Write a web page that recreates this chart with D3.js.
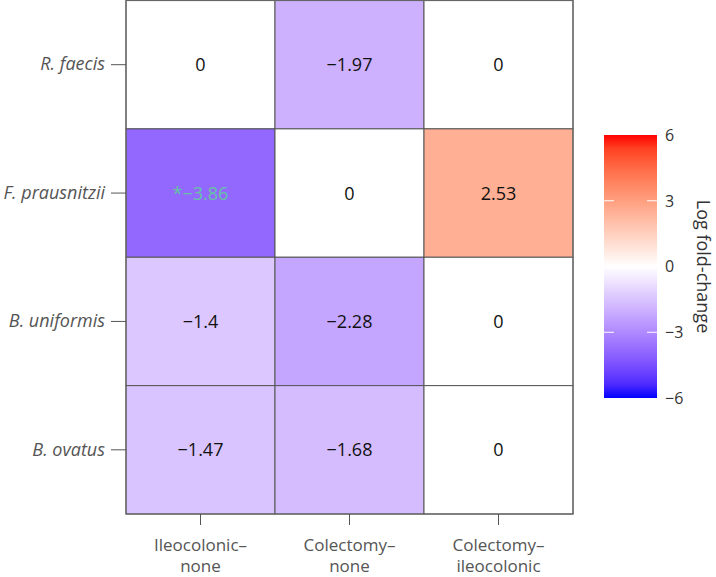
<!DOCTYPE html>
<html><head><meta charset="utf-8">
<script src="https://cdn.jsdelivr.net/npm/d3@7"></script>
<style>body{margin:0;background:#fff;} svg{display:block;}</style>
</head><body>
<svg id="c" width="716" height="577"></svg>
<script>
const species = ["R. faecis","F. prausnitzii","B. uniformis","B. ovatus"];
const comparisons = ["Ileocolonic–\nnone","Colectomy–\nnone","Colectomy–\nileocolonic"];
const values = [
  [0, -1.97, 0],
  [-3.86, 0, 2.53],
  [-1.4, -2.28, 0],
  [-1.47, -1.68, 0]
];
const significant = [
  [false,false,false],
  [true,false,false],
  [false,false,false],
  [false,false,false]
];
const legendTicks = [6,3,0,-3,-6];

const svg = d3.select("#c");
const font = "'Open Sans', sans-serif";
const x = d3.scaleBand().domain(comparisons).range([126,573]);
const y = d3.scaleBand().domain(species).range([0.5,514]);
const color = d3.scaleLinear().domain([-6,0,6]).range(["#0000ff","#ffffff","#ff0000"]).interpolate(d3.interpolateLab);

const cells = [];
values.forEach((row,i)=>row.forEach((v,j)=>cells.push({s:species[i],c:comparisons[j],v,sig:significant[i][j]})));

svg.append("g").selectAll("rect").data(cells).join("rect")
  .attr("x",d=>x(d.c)).attr("y",d=>y(d.s))
  .attr("width",x.bandwidth()).attr("height",y.bandwidth())
  .attr("fill",d=>color(d.v)).attr("stroke","#555").attr("stroke-width",1);

const fmt = v => (v<0?"−":"")+Math.abs(v);
svg.append("g").selectAll("text").data(cells).join("text")
  .attr("x",d=>x(d.c)+x.bandwidth()/2).attr("y",d=>y(d.s)+y.bandwidth()/2)
  .attr("dy","0.36em").attr("text-anchor","middle")
  .style("font-family",font).style("font-size","18px")
  .attr("fill",d=>d.sig?"#66c2a5":"#111")
  .text(d=>(d.sig?"*":"")+fmt(d.v));

// frame
svg.append("rect").attr("x",126).attr("y",0.5).attr("width",447).attr("height",513.5)
  .attr("fill","none").attr("stroke","#666").attr("stroke-width",1.2);

// y axis
const ya = svg.append("g").attr("transform","translate(126,0)")
  .call(d3.axisLeft(y).tickSize(15).tickPadding(6));
ya.select(".domain").remove();
ya.selectAll("line").attr("stroke","#555");
ya.selectAll("text").style("font-family",font).style("font-size","18px").style("font-style","italic").attr("fill","#555");

// x axis
const xa = svg.append("g").attr("transform","translate(0,514)")
  .call(d3.axisBottom(x).tickSize(11).tickFormat(""));
xa.select(".domain").remove();
xa.selectAll("line").attr("stroke","#555");
xa.selectAll(".tick").each(function(d){
  const lines = d.split("\n");
  const t = d3.select(this).append("text").attr("text-anchor","middle")
    .style("font-family",font).style("font-size","17px").attr("fill","#555");
  lines.forEach((l,k)=>t.append("tspan").attr("x",0).attr("y",37+k*21).text(l));
});

// legend
const lx=604, lw=53, ly=135, lh=263;
const ls = d3.scaleLinear().domain([6,-6]).range([ly,ly+lh]);
const defs = svg.append("defs");
const grad = defs.append("linearGradient").attr("id","g").attr("x1",0).attr("x2",0).attr("y1",0).attr("y2",1);
d3.range(0,1.0001,0.05).forEach(t=>grad.append("stop").attr("offset",t).attr("stop-color",color(6-12*t)));
svg.append("rect").attr("x",lx).attr("y",ly).attr("width",lw).attr("height",lh).attr("fill","url(#g)");
const lt = svg.append("g").selectAll("g").data(legendTicks).join("g");
lt.filter(d=>Math.abs(d)<6).append("line").attr("x1",lx).attr("x2",lx+10).attr("y1",d=>ls(d)).attr("y2",d=>ls(d)).attr("stroke","#fff").attr("stroke-width",1);
lt.filter(d=>Math.abs(d)<6).append("line").attr("x1",lx+lw-10).attr("x2",lx+lw).attr("y1",d=>ls(d)).attr("y2",d=>ls(d)).attr("stroke","#fff").attr("stroke-width",1);
lt.append("text").attr("x",lx+lw+8).attr("y",d=>ls(d)).attr("dy","0.36em")
  .style("font-family",font).style("font-size","16px").attr("fill","#333").text(d=>d<0?"−"+(-d):d);
svg.append("text").attr("transform",`translate(697,${ly+lh/2}) rotate(90)`).attr("text-anchor","middle")
  .style("font-family",font).style("font-size","18px").attr("fill","#333").text("Log fold-change");
</script>
</body></html>
